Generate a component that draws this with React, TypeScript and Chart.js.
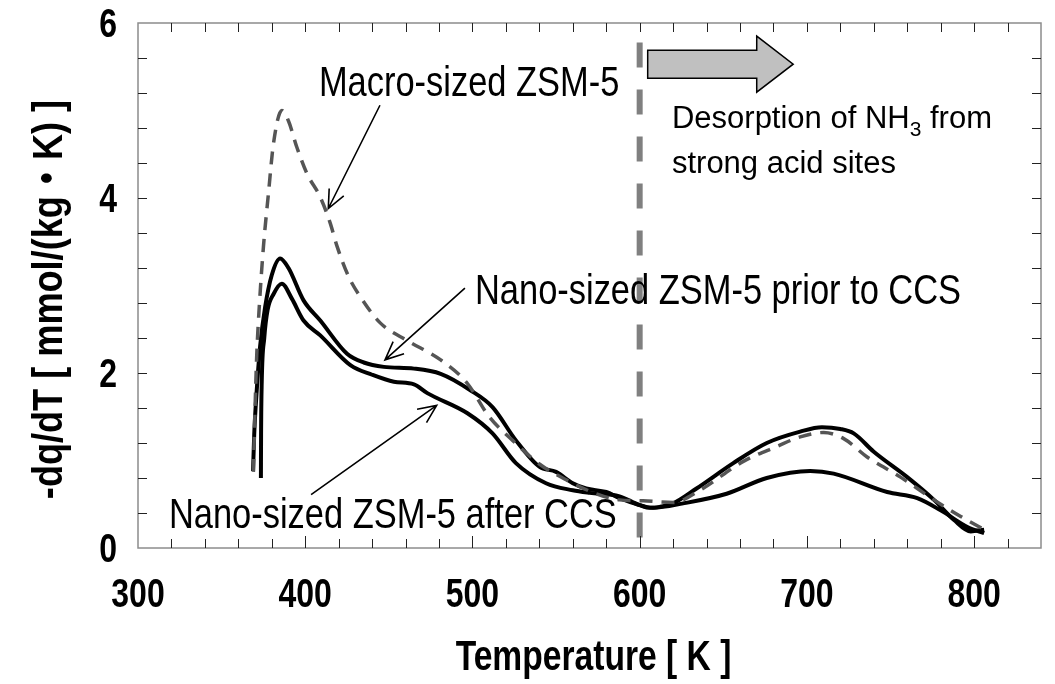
import React, { useEffect, useRef } from 'react';
import { Chart, registerables } from 'chart.js';

Chart.register(...registerables);

// ---------- data ----------
const macroT = [369, 370, 371, 372.5, 375, 378, 381, 386, 390, 395, 401, 409, 415, 419, 426, 433, 445, 461, 481, 497, 510, 524, 540, 556, 574, 588, 602, 620, 636, 662, 682, 696, 710, 722, 736, 756, 776, 792, 806];
const macroQ = [0.87, 1.6, 2.2, 2.75, 3.44, 4.05, 4.62, 5.0, 4.88, 4.58, 4.28, 4.01, 3.71, 3.45, 3.1, 2.87, 2.57, 2.37, 2.15, 1.88, 1.5, 1.23, 0.96, 0.78, 0.62, 0.55, 0.54, 0.52, 0.66, 0.99, 1.16, 1.27, 1.32, 1.25, 1.04, 0.81, 0.55, 0.36, 0.21];

const priorT = [368.8, 369.5, 371, 373, 376, 380, 385, 390, 399, 409, 425, 435, 447, 465, 481, 499, 512, 526, 540, 550, 560, 568, 580, 588, 600, 606, 612, 620, 634, 656, 676, 696, 709, 720, 728, 740, 760, 776, 788, 798, 806];
const priorQ = [0.88, 1.3, 1.8, 2.3, 2.75, 3.12, 3.31, 3.2, 2.83, 2.6, 2.22, 2.12, 2.07, 2.05, 1.99, 1.8, 1.61, 1.23, 0.93, 0.87, 0.74, 0.68, 0.64, 0.57, 0.49, 0.46, 0.47, 0.51, 0.68, 0.97, 1.2, 1.33, 1.38, 1.36, 1.31, 1.1, 0.81, 0.55, 0.32, 0.19, 0.21];

const afterT = [373.5, 373.6, 374, 375.5, 377.5, 381, 386, 392, 399, 409, 427, 440, 453, 465, 473, 497, 512, 526, 544, 560, 570, 588, 600, 608, 626, 652, 676, 702, 716, 748, 766, 780, 796, 806];
const afterQ = [0.8, 1.3, 1.9, 2.4, 2.72, 2.9, 3.02, 2.85, 2.6, 2.43, 2.09, 1.98, 1.9, 1.87, 1.77, 1.54, 1.31, 0.97, 0.74, 0.66, 0.63, 0.59, 0.49, 0.46, 0.51, 0.62, 0.8, 0.88, 0.85, 0.64, 0.57, 0.43, 0.24, 0.17];

const xTickValues = [300, 400, 500, 600, 700, 800];
const yTickValues = [0, 2, 4, 6];
const X_MIN = 300;
const X_MAX = 840;
const Y_MIN = 0;
const Y_MAX = 6;
const X_MINOR_STEP = 20;
const Y_MINOR_STEP = 0.4;
const X_TITLE = 'Temperature [ K ]';
const Y_TITLE = '-dq/dT [ mmol/(kg・K) ]';

// boundary line (600 K)
const boundaryT = 600;
const boundaryRange = [0.12, 5.8];

// annotation labels (positions in data units)
const macroLabel = { text: 'Macro-sized ZSM-5', t: 408.2, q: 5.17 };
const macroArrow = [444.7, 5.06, 413.8, 3.88];
const priorLabel = { text: 'Nano-sized ZSM-5 prior to CCS', t: 501.5, q: 2.79 };
const priorArrow = [495.5, 2.97, 447.7, 2.15];
const afterLabel = { text: 'Nano-sized ZSM-5 after CCS', t: 318.5, q: 0.23 };
const afterArrow = [403.5, 0.61, 478.6, 1.63];
const desorbLine1 = { t: 619.3, q: 4.8 };
const desorbLine2 = { text: 'strong acid sites', t: 619.3, q: 4.29 };
const blockArrow = { t0: 604.8, t1: 670, tip: 691.8, shaftTop: 5.69, shaftBot: 5.37, headTop: 5.85, headBot: 5.21 };

const SANS = '"Liberation Sans", Arial, "Noto Sans CJK JP", sans-serif';
const NARROW = 0.82;

const toPts = (xs: number[], ys: number[]) => xs.map((x, i) => ({ x, y: ys[i] }));

function narrowText(ctx: CanvasRenderingContext2D, text: string, x: number, y: number, sx: number, align: CanvasTextAlign, rot = 0) {
  ctx.save();
  ctx.translate(x, y);
  if (rot) ctx.rotate(rot);
  ctx.scale(sx, 1);
  ctx.textAlign = align;
  ctx.textBaseline = 'alphabetic';
  ctx.fillText(text, 0, 0);
  ctx.restore();
}

function drawOpenArrow(ctx: CanvasRenderingContext2D, x0: number, y0: number, x1: number, y1: number) {
  ctx.beginPath();
  ctx.moveTo(x0, y0);
  ctx.lineTo(x1, y1);
  const ang = Math.atan2(y1 - y0, x1 - x0);
  const L = 20;
  const a = 0.42;
  ctx.moveTo(x1 - L * Math.cos(ang - a), y1 - L * Math.sin(ang - a));
  ctx.lineTo(x1, y1);
  ctx.lineTo(x1 - L * Math.cos(ang + a), y1 - L * Math.sin(ang + a));
  ctx.stroke();
}

const framePlugin = {
  id: 'frameAndNotes',
  afterDatasetsDraw(chart: any) {
    const ctx: CanvasRenderingContext2D = chart.ctx;
    const xs = chart.scales.x;
    const ys = chart.scales.y;
    const { left, right, top, bottom } = chart.chartArea;
    ctx.save();

    // boundary dashed line
    ctx.strokeStyle = '#808080';
    ctx.lineWidth = 6;
    ctx.setLineDash([25, 22]);
    ctx.beginPath();
    const bx = xs.getPixelForValue(boundaryT);
    ctx.moveTo(bx, ys.getPixelForValue(boundaryRange[0]));
    ctx.lineTo(bx, ys.getPixelForValue(boundaryRange[1]));
    ctx.stroke();
    ctx.setLineDash([]);

    // frame
    ctx.strokeStyle = '#8c8c8c';
    ctx.lineWidth = 1.5;
    ctx.strokeRect(left, top, right - left, bottom - top);

    // ticks (inward)
    ctx.strokeStyle = '#222';
    ctx.lineWidth = 1;
    ctx.beginPath();
    for (let v = X_MIN + X_MINOR_STEP; v < X_MAX - 1e-6; v += X_MINOR_STEP) {
      const px = Math.round(xs.getPixelForValue(v)) + 0.5;
      const major = Math.abs(v % 100) < 1e-6;
      ctx.moveTo(px, bottom);
      ctx.lineTo(px, bottom - (major ? 12 : 9));
      ctx.moveTo(px, top);
      ctx.lineTo(px, top + 9);
    }
    for (let v = Y_MIN + Y_MINOR_STEP; v < Y_MAX - 1e-6; v += Y_MINOR_STEP) {
      const py = Math.round(ys.getPixelForValue(v)) + 0.5;
      ctx.moveTo(left, py);
      ctx.lineTo(left + 9, py);
      ctx.moveTo(right, py);
      ctx.lineTo(right - 9, py);
    }
    ctx.stroke();

    // axis tick labels
    ctx.fillStyle = '#000';
    ctx.font = `bold 40px ${SANS}`;
    for (const v of xTickValues) {
      narrowText(ctx, String(v), xs.getPixelForValue(v), bottom + 59, 0.8, 'center');
    }
    for (const v of yTickValues) {
      narrowText(ctx, String(v), left - 21, ys.getPixelForValue(v) + 14, 0.8, 'right');
    }
    // axis titles
    ctx.font = `bold 42px ${SANS}`;
    narrowText(ctx, X_TITLE, (left + right) / 2 + 4, 670, 0.8, 'center');
    narrowText(ctx, Y_TITLE, 62, (top + bottom) / 2 + 14, 0.86, 'center', -Math.PI / 2);

    // annotation texts
    ctx.font = `42px ${SANS}`;
    for (const lab of [macroLabel, priorLabel, afterLabel]) {
      narrowText(ctx, lab.text, xs.getPixelForValue(lab.t), ys.getPixelForValue(lab.q), NARROW, 'left');
    }

    // arrows
    ctx.strokeStyle = '#000';
    ctx.lineWidth = 1.6;
    for (const a of [macroArrow, priorArrow, afterArrow]) {
      drawOpenArrow(ctx, xs.getPixelForValue(a[0]), ys.getPixelForValue(a[1]), xs.getPixelForValue(a[2]), ys.getPixelForValue(a[3]));
    }

    // desorption text with subscript
    ctx.textAlign = 'left';
    ctx.textBaseline = 'alphabetic';
    ctx.font = `31px ${SANS}`;
    let dx = xs.getPixelForValue(desorbLine1.t);
    const dy = ys.getPixelForValue(desorbLine1.q);
    const p1 = 'Desorption of NH';
    ctx.fillText(p1, dx, dy);
    dx += ctx.measureText(p1).width;
    ctx.font = `21px ${SANS}`;
    ctx.fillText('3', dx, dy + 8);
    dx += ctx.measureText('3').width;
    ctx.font = `31px ${SANS}`;
    ctx.fillText(' from', dx, dy);
    ctx.fillText(desorbLine2.text, xs.getPixelForValue(desorbLine2.t), ys.getPixelForValue(desorbLine2.q));

    // block arrow
    const b = blockArrow;
    ctx.beginPath();
    ctx.moveTo(xs.getPixelForValue(b.t0), ys.getPixelForValue(b.shaftTop));
    ctx.lineTo(xs.getPixelForValue(b.t1), ys.getPixelForValue(b.shaftTop));
    ctx.lineTo(xs.getPixelForValue(b.t1), ys.getPixelForValue(b.headTop));
    ctx.lineTo(xs.getPixelForValue(b.tip), ys.getPixelForValue((b.headTop + b.headBot) / 2));
    ctx.lineTo(xs.getPixelForValue(b.t1), ys.getPixelForValue(b.headBot));
    ctx.lineTo(xs.getPixelForValue(b.t1), ys.getPixelForValue(b.shaftBot));
    ctx.lineTo(xs.getPixelForValue(b.t0), ys.getPixelForValue(b.shaftBot));
    ctx.closePath();
    ctx.fillStyle = '#c0c0c0';
    ctx.fill();
    ctx.lineWidth = 1.5;
    ctx.strokeStyle = '#000';
    ctx.stroke();

    ctx.restore();
  },
};

export default function App() {
  const ref = useRef<HTMLCanvasElement | null>(null);
  useEffect(() => {
    if (!ref.current) return;
    const chart = new Chart(ref.current, {
      type: 'line',
      data: {
        datasets: [
          {
            label: 'Macro-sized ZSM-5',
            data: toPts(macroT, macroQ),
            borderColor: '#555555',
            borderWidth: 3.5,
            borderDash: [13, 9],
            pointRadius: 0,
            cubicInterpolationMode: 'monotone',
            fill: false,
          },
          {
            label: 'Nano-sized ZSM-5 prior to CCS',
            data: toPts(priorT, priorQ),
            borderColor: '#000000',
            borderWidth: 4,
            pointRadius: 0,
            cubicInterpolationMode: 'monotone',
            fill: false,
          },
          {
            label: 'Nano-sized ZSM-5 after CCS',
            data: toPts(afterT, afterQ),
            borderColor: '#000000',
            borderWidth: 4,
            pointRadius: 0,
            cubicInterpolationMode: 'monotone',
            fill: false,
          },
        ],
      },
      options: {
        animation: false,
        responsive: false,
        maintainAspectRatio: false,
        events: [],
        layout: { padding: { top: 23, right: 14, left: 0, bottom: 0 } },
        plugins: { legend: { display: false }, tooltip: { enabled: false } },
        scales: {
          x: {
            type: 'linear',
            min: X_MIN,
            max: X_MAX,
            afterBuildTicks: (s: any) => {
              s.ticks = xTickValues.map((v) => ({ value: v }));
            },
            afterFit: (s: any) => {
              s.height = 136;
            },
            grid: { display: false, drawTicks: false },
            border: { display: false },
            ticks: { display: false },
            title: { display: false },
          },
          y: {
            type: 'linear',
            min: Y_MIN,
            max: Y_MAX,
            afterBuildTicks: (s: any) => {
              s.ticks = yTickValues.map((v) => ({ value: v }));
            },
            afterFit: (s: any) => {
              s.width = 138;
            },
            grid: { display: false, drawTicks: false },
            border: { display: false },
            ticks: { display: false },
            title: { display: false },
          },
        },
      },
      plugins: [framePlugin],
    } as any);
    return () => chart.destroy();
  }, []);
  return (
    <div style={{ position: 'fixed', left: 0, top: 0, width: 1055, height: 684, background: '#fff' }}>
      <canvas ref={ref} width={1055} height={684} style={{ width: 1055, height: 684, display: 'block' }} />
    </div>
  );
}
